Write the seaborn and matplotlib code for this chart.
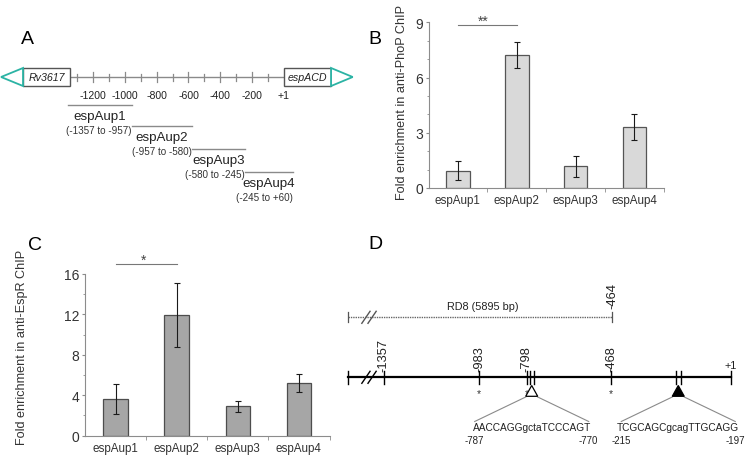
import numpy as np
import pandas as pd
import matplotlib
matplotlib.use("Agg")
import matplotlib.pyplot as plt
import seaborn as sns
from matplotlib.patches import Polygon, Rectangle
from matplotlib.ticker import MultipleLocator, FixedLocator

# ---- data ----
regions = ["espAup1", "espAup2", "espAup3", "espAup4"]
phop_mean = [0.95, 7.23, 1.18, 3.32]
phop_err = [0.52, 0.70, 0.58, 0.69]
espr_mean = [3.65, 11.95, 2.90, 5.20]
espr_err = [1.50, 3.15, 0.56, 0.87]

# panel A: promoter map (bp relative to espA start)
map_ticks = [-1300, -1200, -1100, -1000, -900, -800, -700, -600, -500, -400, -300, -200, -100]
map_label_pos = [-1200, -1000, -800, -600, -400, -200, 0]
map_labels = ["-1200", "-1000", "-800", "-600", "-400", "-200", "+1"]
frag_start = [-1357, -957, -580, -245]
frag_end = [-957, -580, -245, 60]
frag_ranges = ["(-1357 to -957)", "(-957 to -580)", "(-580 to -245)", "(-245 to +60)"]

# panel D: RD8 region and PhoP sites
rd8_end = -464
d_marks = [-1357, -983, -798, -468]
d_starred = [-983, -798, -468]
site_start = [-787, -215]
site_end = [-770, -197]
site_seq = ["AACCAGGgctaTCCCAGT", "TCGCAGCgcagTTGCAGG"]
site_filled = [False, True]

plt.rcParams["font.family"] = ["Liberation Sans", "DejaVu Sans"]
TXT = "#222222"

W, H = 745, 460
fig = plt.figure(figsize=(W / 100, H / 100), dpi=100)


def fx(px):
    return px / W


def fy(py):
    return 1 - py / H


def bar_panel(ax, means, errs, face, edge, ymax, major, minor, ylabel, lab_xy, star, star_y, star_x):
    df = pd.DataFrame({"region": regions, "fold": means})
    sns.barplot(data=df, x="region", y="fold", color=face, edgecolor=edge, linewidth=0.9,
                width=0.4, saturation=1, errorbar=None, ax=ax)
    ax.errorbar(np.arange(len(regions)), means, yerr=errs, fmt="none", ecolor="#1a1a1a",
                elinewidth=0.8, capsize=2, capthick=0.8)
    ax.set_xlim(-0.5, len(regions) - 0.5)
    ax.set_ylim(0, ymax)
    ax.yaxis.set_major_locator(MultipleLocator(major))
    ax.yaxis.set_minor_locator(MultipleLocator(minor))
    ax.xaxis.set_minor_locator(FixedLocator([0.5, 1.5, 2.5, 3.5]))
    sns.despine(ax=ax)
    for s in ("left", "bottom"):
        ax.spines[s].set_color("#8c8c8c")
        ax.spines[s].set_linewidth(0.8)
    ax.tick_params(axis="y", which="major", length=2.5, width=0.8, color="#8c8c8c",
                   labelsize=10, labelcolor="#333333", pad=1.5)
    ax.tick_params(axis="y", which="minor", length=1.8, width=0.6, color="#8c8c8c")
    ax.tick_params(axis="x", which="major", length=0, labelsize=8.4,
                   labelcolor="#333333", pad=4.5)
    ax.tick_params(axis="x", which="minor", length=3, width=0.6, color="#8c8c8c")
    ax.set_xlabel("")
    ax.set_ylabel(ylabel, fontsize=9.1, color="#333333")
    ax.yaxis.set_label_coords(*lab_xy)
    ax.plot([0, 1], [star_y, star_y], color="#777777", lw=0.8, clip_on=False)
    ax.text(star_x, star_y, star, ha="center", va="baseline", fontsize=10,
            color="#444444", clip_on=False)


# ---- panel B ----
ax_b = fig.add_axes([fx(428.5), fy(189), 235.3 / W, 165.7 / H])
bar_panel(ax_b, phop_mean, phop_err, "#d9d9d9", "#555555", 9, 3, 1,
          "Fold enrichment in anti-PhoP ChIP", (-0.087, 0.52), "**", 8.85, 0.43)

# ---- panel C ----
ax_c = fig.add_axes([fx(85), fy(436.7), 244.5 / W, 161.7 / H])
bar_panel(ax_c, espr_mean, espr_err, "#a6a6a6", "#4d4d4d", 16, 4, 2,
          "Fold enrichment in anti-EspR ChIP", (-0.234, 0.55), "*", 17.0, 0.45)

# ---- panel A: map ----
teal = "#2bb3a4"
ax_a = fig.add_axes([0, fy(215), 360 / W, 165 / H])
ax_a.set_xlim(-1787.6, 480.8)
ax_a.set_ylim(215, 50)
ax_a.axis("off")
LINE_Y = 78
ax_a.plot([-1346.6, 0], [LINE_Y, LINE_Y], color="#8a8a8a", lw=1)
for t in map_ticks:
    h = 5 if t % 200 == 0 else 3.5
    ax_a.plot([t, t], [LINE_Y - h, LINE_Y + h], color="#8a8a8a", lw=0.9)
for pos, lab in zip(map_label_pos, map_labels):
    ax_a.text(pos, 96, lab, ha="center", va="center", fontsize=7.6, color=TXT)
# genes
ax_a.add_patch(Rectangle((-1642.6, 69), 296, 18, fc="white", ec="#555555", lw=1, zorder=3))
ax_a.add_patch(Polygon([(-1642.6, 69), (-1642.6, 87), (-1781, 78)], closed=True,
                       fc="white", ec=teal, lw=1.3, zorder=3))
ax_a.text(-1494.6, 78, "Rv3617", ha="center", va="center", style="italic",
          fontsize=7.7, color=TXT)
ax_a.add_patch(Rectangle((0, 69), 298.5, 18, fc="white", ec="#555555", lw=1, zorder=3))
ax_a.add_patch(Polygon([(298.5, 69), (298.5, 87), (434.8, 78)], closed=True,
                       fc="white", ec=teal, lw=1.3, zorder=3))
ax_a.text(149, 78, "espACD", ha="center", va="center", style="italic",
          fontsize=7.7, color=TXT)
# amplicons
frag_y = [106, 127, 150, 173]
for s, e, name, rng, y in zip(frag_start, frag_end, regions, frag_ranges, frag_y):
    ax_a.plot([s, e], [y, y], color="#8a8a8a", lw=1)
    ax_a.text((s + e) / 2, y + 11, name, ha="center", va="center", fontsize=9.6, color=TXT)
    ax_a.text(e, y + 25, rng, ha="right", va="center", fontsize=7.1, color="#333333")

# ---- panel D: RD8 map ----
ax_d = fig.add_axes([fx(340), 0, 405 / W, 230 / H])
ax_d.set_xlim(-1527.3, 54.7)
ax_d.set_ylim(460, 230)
ax_d.axis("off")
LEFT = -1495
TOP_Y, MAIN_Y = 318.3, 378.3
ax_d.plot([LEFT, rd8_end], [TOP_Y, TOP_Y], color="#666666", lw=1, linestyle=(0, (1, 0.7)))
for x in (LEFT, rd8_end):
    ax_d.plot([x, x], [TOP_Y - 5, TOP_Y + 5], color="#555555", lw=0.9)
ax_d.text((LEFT + rd8_end) / 2 + 10, 306.7, "RD8 (5895 bp)", ha="center", va="center",
          fontsize=7.8, color=TXT)
ax_d.text(rd8_end, 309, str(rd8_end), rotation=90, ha="center", va="bottom",
          fontsize=9.3, color=TXT)

ax_d.plot([LEFT, 0], [MAIN_Y, MAIN_Y], color="black", lw=1.6)
for x in [LEFT, 0] + d_marks + site_start + site_end:
    ax_d.plot([x, x], [MAIN_Y - 6.5, MAIN_Y + 7], color="black", lw=1)
for yl, col in ((TOP_Y, "#555555"), (MAIN_Y, "black")):
    for c in (-1426, -1402):
        ax_d.plot([c - 16, c + 16], [yl + 6, yl - 6], color=col, lw=1)
for m in d_marks:
    ax_d.text(m, 372, str(m), rotation=90, ha="center", va="bottom", fontsize=9.3, color=TXT)
ax_d.text(0, 366, "+1", ha="center", va="center", fontsize=7.8, color=TXT)
for m in d_starred:
    ax_d.text(m, 397, "*", ha="center", va="baseline", fontsize=7.5, color="#333333")

hw = 6 / 0.256
off = 57 / 0.256
for s, e, seq, filled in zip(site_start, site_end, site_seq, site_filled):
    c = (s + e) / 2
    ax_d.add_patch(Polygon([(c, 386.5), (c - hw, 397.3), (c + hw, 397.3)], closed=True,
                           fc="black" if filled else "white", ec="black", lw=0.9, zorder=3))
    ax_d.plot([c - hw, c - off], [398, 422.5], color="#8a8a8a", lw=0.8)
    ax_d.plot([c + hw, c + off], [398, 422.5], color="#8a8a8a", lw=0.8)
    ax_d.text(c, 428.3, seq, ha="center", va="center", fontsize=7.3, color=TXT)
    ax_d.text(c - off, 440.7, str(s), ha="center", va="center", fontsize=7, color=TXT)
    ax_d.text(c + off, 440.7, str(e), ha="center", va="center", fontsize=7, color=TXT)

# ---- panel letters ----
for letter, (px, py) in zip("ABCD", [(27, 40), (375, 40), (35, 246), (375, 245)]):
    fig.text(fx(px), fy(py), letter, ha="center", va="center", fontsize=14)

fig.savefig("out.png", dpi=100)
